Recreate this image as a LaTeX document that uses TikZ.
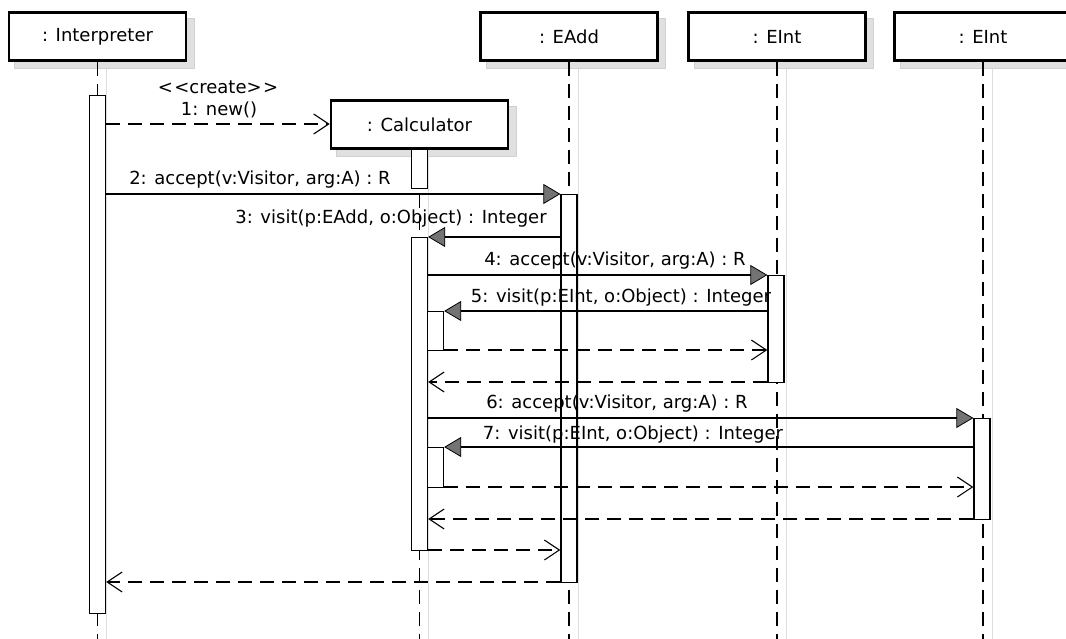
\documentclass[tikz,border=0pt]{standalone}
\usepackage{fontspec}
\setmainfont{DejaVu Sans}
\usetikzlibrary{arrows.meta}
\pgfdeclarelayer{background}
\pgfsetlayers{background,main}
\begin{document}
\begin{tikzpicture}[x=1pt,y=-1pt,
  txt/.style={font=\fontsize{18}{21}\selectfont, inner sep=0pt},
  hdr/.style={draw, line width=2.7pt, fill=white, minimum width=177pt, minimum height=48pt, inner sep=0pt, font=\fontsize{18}{21}\selectfont},
  hshadow/.style={fill=black!12, draw=black!18, line width=1pt},
  life/.style={line width=1.2pt, dash pattern=on 14pt off 8pt},
  lshadow/.style={line width=1pt, draw=black!13},
  act/.style={draw, fill=white, line width=1.3pt, minimum width=16pt, inner sep=0pt, anchor=north},
  msg/.style={line width=1.1pt, -{Triangle[length=17pt,width=20pt,fill=black!55,line width=0.8pt]}},
  ret/.style={line width=1.1pt, dash pattern=on 14pt off 8pt, -{Straight Barb[length=15pt,width=20pt,line width=1.1pt]}}
]
\useasboundingbox (0,0) rectangle (1066,639);
\coordinate (bot) at (0,639);

% headers
\node[hdr] (hI) at (97.5,36.5) {: Interpreter};
\node[hdr] (hC) at (419.5,124.5) {: Calculator};
\node[hdr] (hA) at (569,36.5) {: EAdd};
\node[hdr] (hE1) at (777,36.5) {: EInt};
\node[hdr] (hE2) at (983,36.5) {: EInt};

\begin{pgfonlayer}{background}
  \fill[white] (0,0) rectangle (1066,639);
  \foreach \h in {hI,hC,hA,hE1,hE2}{
    \draw[hshadow] ([shift={(7,7)}]\h.north west) rectangle ([shift={(7,7)}]\h.south east);
    \draw[lshadow] ([shift={(9,7)}]\h.south) -- ([xshift=9pt]\h.south |- bot);
  }
\end{pgfonlayer}

% lifelines
\foreach \h in {hI,hC,hA,hE1,hE2}{
  \draw[life] (\h.south) -- (\h.south |- bot);
}

% activations
\node[act, minimum height=518pt] (aI) at (97.5,95) {};
\node[act, minimum height=39pt] (aC1) at (419.5,149) {};
\node[act, minimum height=388pt] (aA) at (569,194) {};
\node[act, minimum height=313pt] (aC2) at (419.5,237) {};
\node[act, minimum height=39pt] (aN1) at (435.5,311) {};
\node[act, minimum height=107pt] (aE1) at (776,275) {};
\node[act, minimum height=40pt] (aN2) at (435.5,447) {};
\node[act, minimum height=101pt] (aE2) at (982,418) {};

% levels
\coordinate (y1) at (0,124);
\coordinate (y2) at (0,194);
\coordinate (y3) at (0,237);
\coordinate (y4) at (0,275);
\coordinate (y5) at (0,311);
\coordinate (r5) at (0,350);
\coordinate (r4) at (0,382);
\coordinate (y6) at (0,418);
\coordinate (y7) at (0,447);
\coordinate (r7) at (0,487);
\coordinate (r6) at (0,519);
\coordinate (r3) at (0,550);
\coordinate (r2) at (0,582);

% messages
\draw[ret] (aI.east |- y1) -- (hC.west |- y1);
\draw[msg] (aI.east |- y2) -- (aA.west |- y2);
\draw[msg] (aA.west |- y3) -- (aC2.east |- y3);
\draw[msg] (aC2.east |- y4) -- (aE1.west |- y4);
\draw[msg] (aE1.west |- y5) -- (aN1.east |- y5);
\draw[ret] (aN1.east |- r5) -- (aE1.west |- r5);
\draw[ret] (aE1.west |- r4) -- (aC2.east |- r4);
\draw[msg] (aC2.east |- y6) -- (aE2.west |- y6);
\draw[msg] (aE2.west |- y7) -- (aN2.east |- y7);
\draw[ret] (aN2.east |- r7) -- (aE2.west |- r7);
\draw[ret] (aE2.west |- r6) -- (aC2.east |- r6);
\draw[ret] (aC2.east |- r3) -- (aA.west |- r3);
\draw[ret] (aA.west |- r2) -- (aI.east |- r2);

% labels
\node[txt] (l0) at (218,87) {<{\kern1.5pt}<create>{\kern1.5pt}>};
\node[txt] (l1) at (219,110) {1: new()};
\node[txt] (l2) at (260,180) {2: accept(v:Visitor, arg:A) : R};
\node[txt] (l3) at (391,219) {3: visit(p:EAdd, o:Object) : Integer};
\node[txt] (l4) at (615,261) {4: accept(v:Visitor, arg:A) : R};
\node[txt] (l5) at (621,298) {5: visit(p:EInt, o:Object) : Integer};
\node[txt] (l6) at (617,404) {6: accept(v:Visitor, arg:A) : R};
\node[txt] (l7) at (633,435) {7: visit(p:EInt, o:Object) : Integer};
\end{tikzpicture}
\end{document}
